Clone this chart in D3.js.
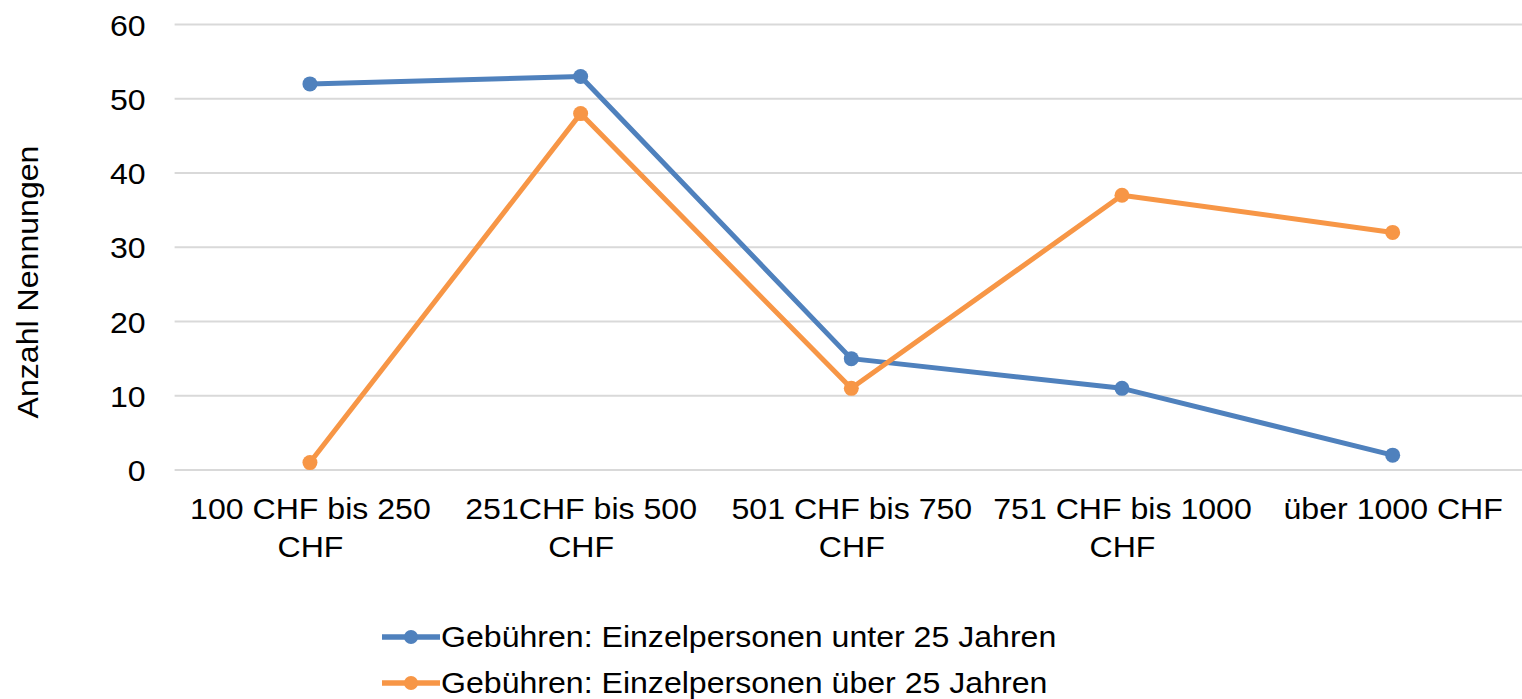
<!DOCTYPE html>
<html>
<head>
<meta charset="utf-8">
<script src="https://cdn.jsdelivr.net/npm/d3@7"></script>
<style>
  body { margin: 0; background: #fff; }
  text { font-family: "Liberation Sans", Arial, sans-serif; fill: #000; }
</style>
</head>
<body>
<svg width="1522" height="699"></svg>
<script>
// data
const categories = ['100 CHF bis 250 CHF', '251CHF bis 500 CHF', '501 CHF bis 750 CHF', '751 CHF bis 1000 CHF', 'über 1000 CHF'];
const under25 = [52, 53, 15, 11, 2];
const over25 = [1, 48, 11, 37, 32];
const seriesNames = ['Gebühren: Einzelpersonen unter 25 Jahren', 'Gebühren: Einzelpersonen über 25 Jahren'];
const seriesColors = ['#4f81bd', '#f79646'];
const yTicks = [0, 10, 20, 30, 40, 50, 60];

const svg = d3.select('svg');
const plotLeft = 174.6, plotRight = 1528, plotTop = 24.5, plotBottom = 470;
// the source chart's text is a bit wider than plain Arial
const stretch = 'scale(1.07,1)';

const x = d3.scalePoint().domain(categories).range([plotLeft, plotRight]).padding(0.5);
const y = d3.scaleLinear().domain([0, 60]).range([plotBottom, plotTop]);

// gridlines
svg.append('g')
  .selectAll('line')
  .data(yTicks)
  .join('line')
  .attr('x1', plotLeft).attr('x2', 1522)
  .attr('y1', d => y(d)).attr('y2', d => y(d))
  .attr('stroke', '#d9d9d9')
  .attr('stroke-width', 2);

// y axis
const yAxis = svg.append('g')
  .attr('transform', `translate(${plotLeft},0)`)
  .call(d3.axisLeft(y).tickValues(yTicks).tickSize(0).tickPadding(27));
yAxis.select('.domain').remove();
yAxis.selectAll('text')
  .style('font-size', '30px')
  .attr('dy', '0.35em')
  .attr('transform', stretch);

// x axis labels, wrapped
const xAxis = svg.append('g')
  .attr('transform', `translate(0,${plotBottom})`)
  .call(d3.axisBottom(x).tickSize(0).tickPadding(0));
xAxis.select('.domain').remove();
xAxis.selectAll('text')
  .style('font-size', '30px')
  .attr('dy', null)
  .attr('transform', stretch)
  .each(function (d) {
    const t = d3.select(this);
    const words = d.split(' ');
    t.text(null);
    let line = [];
    let lines = [];
    const probe = t.append('tspan');
    words.forEach(w => {
      line.push(w);
      probe.text(line.join(' '));
      if (probe.node().getComputedTextLength() > 250 && line.length > 1) {
        line.pop();
        lines.push(line.join(' '));
        line = [w];
      }
    });
    lines.push(line.join(' '));
    probe.remove();
    lines.forEach((l, i) => {
      t.append('tspan').attr('x', 0).attr('y', 49 + i * 38).text(l);
    });
  });

// y axis title
svg.append('text')
  .attr('transform', `translate(38,282) rotate(-90) ${stretch}`)
  .attr('text-anchor', 'middle')
  .style('font-size', '30px')
  .text('Anzahl Nennungen');

// series lines
const series = [under25, over25];
const line = d3.line().x((d, i) => x(categories[i])).y(d => y(d));

series.forEach((vals, s) => {
  const g = svg.append('g');
  g.append('path')
    .datum(vals)
    .attr('d', line)
    .attr('fill', 'none')
    .attr('stroke', seriesColors[s])
    .attr('stroke-width', 5)
    .attr('stroke-linejoin', 'round');
  g.selectAll('circle')
    .data(vals)
    .join('circle')
    .attr('cx', (d, i) => x(categories[i]))
    .attr('cy', d => y(d))
    .attr('r', 7.5)
    .attr('fill', seriesColors[s]);
});

// legend
const legend = svg.append('g')
  .selectAll('g')
  .data(seriesNames)
  .join('g')
  .attr('transform', (d, i) => `translate(382,${637 + i * 46})`);
legend.append('line')
  .attr('x1', 0).attr('x2', 58)
  .attr('stroke', (d, i) => seriesColors[i])
  .attr('stroke-width', 5.5);
legend.append('circle')
  .attr('cx', 29).attr('r', 7)
  .attr('fill', (d, i) => seriesColors[i]);
legend.append('g')
  .attr('transform', 'translate(59,0)')
  .append('text')
  .attr('dy', '0.33em')
  .attr('transform', stretch)
  .style('font-size', '30px')
  .text(d => d);
</script>
</body>
</html>
